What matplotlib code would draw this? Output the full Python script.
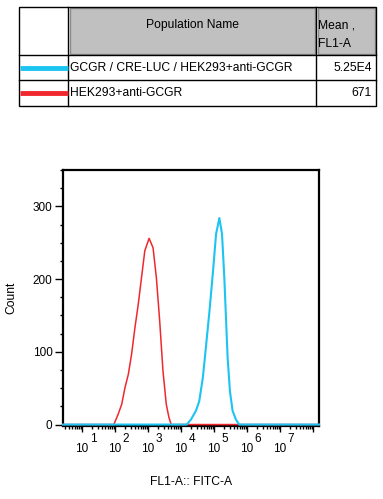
import numpy as np
import matplotlib.pyplot as plt
from matplotlib.patches import Rectangle
from matplotlib.ticker import LogLocator, MultipleLocator, NullFormatter
import matplotlib.transforms as mtransforms

plt.rcParams['font.family'] = ['Liberation Sans', 'DejaVu Sans']

# histogram traces (log10 of FL1-A, count)
red_log = [0.42, 1.96, 2.09, 2.20, 2.30, 2.40, 2.50, 2.60, 2.70, 2.80, 2.90, 3.03,
           3.15, 3.25, 3.35, 3.45, 3.55, 3.63, 3.70, 8.18]
red_count = [0, 0, 14, 28, 51, 69, 97, 133, 165, 202, 239, 256,
             243, 202, 143, 74, 28, 10, 0, 0]
blue_log = [0.42, 4.17, 4.30, 4.45, 4.55, 4.66, 4.76, 4.86, 4.96, 5.06, 5.16, 5.24,
            5.31, 5.36, 5.41, 5.48, 5.56, 5.66, 5.76, 8.18]
blue_count = [0, 0, 7, 19, 32, 65, 110, 156, 207, 262, 284, 262,
              202, 147, 92, 46, 19, 7, 0, 0]

populations = ["GCGR / CRE-LUC / HEK293+anti-GCGR", "HEK293+anti-GCGR"]
means = ["5.25E4", "671"]
pop_colors = ["#1cc4f2", "#f0282d"]
decade_labels = [1, 2, 3, 4, 5, 6, 7]

W, H = 383, 499
fig = plt.figure(figsize=(W / 100, H / 100), dpi=100)

# ---- histogram axes ----
ax = fig.add_axes([63 / W, 1 - 426 / H, (319 - 63) / W, (426 - 170) / H])
ax.plot(10 ** np.array(red_log), red_count, color=pop_colors[1], lw=1.1,
        zorder=3, clip_on=False)
ax.plot(10 ** np.array(blue_log), blue_count, color=pop_colors[0], lw=1.5,
        zorder=4, clip_on=False)
ax.set_xscale('log')
ax.set_xlim(10 ** 0.42, 10 ** 8.18)
ax.set_ylim(-2, 350)

for s in ax.spines.values():
    s.set_linewidth(1.6)

ax.yaxis.set_major_locator(MultipleLocator(100))
ax.yaxis.set_minor_locator(MultipleLocator(25))
ax.tick_params(axis='y', which='major', length=5.5, width=1, labelsize=8.5, pad=2)
ax.tick_params(axis='y', which='minor', length=2.4, width=1)

ax.xaxis.set_major_locator(LogLocator(base=10, numticks=20))
ax.xaxis.set_minor_locator(LogLocator(base=10, subs=np.arange(2, 10), numticks=20))
ax.xaxis.set_major_formatter(NullFormatter())
ax.xaxis.set_minor_formatter(NullFormatter())
ax.tick_params(axis='x', which='major', length=4.3, width=1)
ax.tick_params(axis='x', which='minor', length=2.4, width=1)

trans = mtransforms.blended_transform_factory(ax.transData, ax.transAxes)
px = fig.dpi_scale_trans
for k in decade_labels:
    ax.text(10 ** k, 0, "10", transform=trans + mtransforms.ScaledTranslation(0, -23 / 100, px),
            ha='center', va='center', fontsize=8.5)
    ax.text(10 ** k, 0, str(k), transform=trans + mtransforms.ScaledTranslation(11 / 100, -13.5 / 100, px),
            ha='center', va='center', fontsize=8.5)

ax.set_ylabel("Count", fontsize=8.7, labelpad=11)
ax.set_xlabel("FL1-A:: FITC-A", fontsize=8.7, labelpad=28.5)

# ---- legend table ----
tab = fig.add_axes([0, 0, 1, 1], facecolor='none')
tab.set_xlim(0, W)
tab.set_ylim(H, 0)
tab.axis('off')

x0, x1, x2, x3 = 19, 68, 316, 376
y0, y1, y2, y3 = 7, 55, 80, 106
tab.add_patch(Rectangle((70, 8), 245, 46, facecolor='#c0c0c0', edgecolor='#8c8c8c', lw=1))
tab.add_patch(Rectangle((318, 8), 57, 46, facecolor='#c0c0c0', edgecolor='#8c8c8c', lw=1))
tab.add_patch(Rectangle((x0, y0), x3 - x0, y3 - y0, facecolor='none', edgecolor='black', lw=1))
for yy in (y1, y2):
    tab.plot([x0, x3], [yy, yy], color='black', lw=1)
for xx in (x1, x2):
    tab.plot([xx, xx], [y0, y3], color='black', lw=1)

tab.text((x1 + x2) / 2, 25, "Population Name", ha='center', va='center', fontsize=8.7)
tab.text(318, 25, "Mean ,", ha='left', va='center', fontsize=8.7)
tab.text(318, 44, "FL1-A", ha='left', va='center', fontsize=8.7)

row_y = [(y1 + y2) / 2, (y2 + y3) / 2]
for name, m, c, yy in zip(populations, means, pop_colors, row_y):
    tab.plot([x0 + 1, x1], [yy, yy], color=c, lw=3.5, solid_capstyle='butt')
    tab.text(x1 + 2, yy, name, ha='left', va='center', fontsize=8.7)
    tab.text(x3 - 4, yy, m, ha='right', va='center', fontsize=8.7)

plt.savefig("out.png", dpi=100)
